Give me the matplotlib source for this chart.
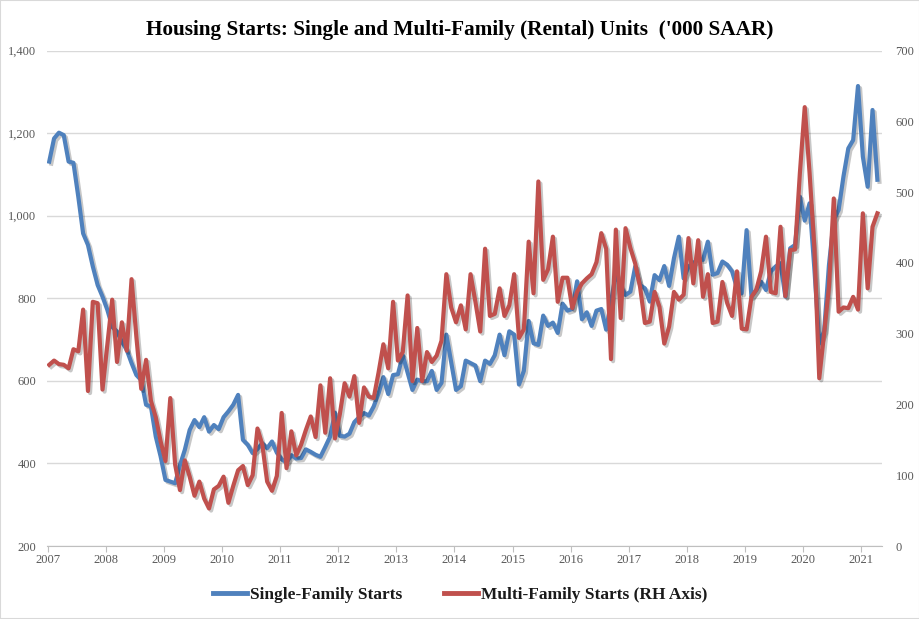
import numpy as np
import matplotlib
matplotlib.use("Agg")
import matplotlib.pyplot as plt
import matplotlib.patheffects as pe
from matplotlib.lines import Line2D
from matplotlib.patches import Rectangle

# monthly, Jan 2007 - Apr 2021, thousands SAAR
years = list(range(2007, 2022))

single_family = [
    1131, 1187, 1201, 1195, 1131, 1128, 1046, 957, 929, 877, 832, 804,   # 2007
    772, 731, 719, 695, 675, 643, 614, 602, 542, 538, 465, 417,          # 2008
    360, 356, 352, 396, 433, 481, 505, 488, 512, 477, 493, 483,          # 2009
    512, 526, 542, 566, 457, 445, 425, 435, 449, 437, 453, 426,          # 2010
    410, 403, 420, 412, 413, 434, 428, 421, 416, 440, 465, 523,          # 2011
    467, 465, 472, 500, 512, 522, 516, 538, 570, 609, 568, 614,          # 2012
    616, 662, 620, 578, 603, 599, 599, 624, 578, 595, 712, 645,          # 2013
    578, 587, 649, 643, 637, 599, 649, 641, 662, 712, 662, 720,          # 2014
    712, 591, 624, 745, 691, 687, 758, 733, 741, 716, 787, 770,          # 2015
    774, 841, 749, 766, 733, 770, 774, 724, 790, 860, 830, 808,          # 2016
    816, 877, 832, 824, 792, 856, 844, 878, 830, 897, 949, 848,          # 2017
    877, 885, 895, 893, 937, 857, 861, 889, 881, 865, 825, 812,          # 2018
    965, 804, 820, 840, 820, 865, 877, 885, 804, 921, 929, 1046,         # 2019
    988, 1030, 870, 690, 720, 880, 990, 1014, 1095, 1163, 1183, 1314,    # 2020
    1143, 1070, 1256, 1087,                                              # 2021
]

multi_family = [
    256, 262, 257, 256, 251, 278, 275, 334, 219, 345, 343, 221,          # 2007
    285, 348, 260, 316, 276, 377, 295, 222, 263, 205, 182, 148,          # 2008
    120, 209, 115, 79, 121, 98, 71, 91, 67, 53, 80, 85,                  # 2009
    98, 61, 85, 107, 113, 86, 100, 166, 143, 91, 78, 99,                 # 2010
    188, 110, 162, 128, 143, 164, 183, 154, 227, 160, 237, 152,          # 2011
    186, 230, 211, 240, 174, 224, 211, 209, 245, 285, 251, 345,          # 2012
    262, 274, 354, 233, 308, 233, 274, 260, 269, 290, 384, 337,          # 2013
    316, 340, 306, 384, 345, 303, 420, 325, 328, 364, 325, 340,          # 2014
    384, 294, 306, 430, 357, 515, 376, 391, 437, 345, 379, 379,          # 2015
    336, 359, 371, 378, 384, 401, 442, 420, 264, 447, 322, 449,          # 2016
    421, 399, 366, 315, 317, 359, 338, 286, 310, 359, 348, 355,          # 2017
    435, 371, 432, 352, 384, 315, 317, 373, 343, 325, 388, 307,          # 2018
    306, 352, 362, 388, 437, 359, 357, 451, 353, 418, 419, 527,          # 2019
    620, 527, 420, 237, 300, 366, 491, 331, 337, 336, 352, 334,          # 2020
    470, 364, 451, 470,                                                  # 2021
]

title = "Housing Starts: Single and Multi-Family (Rental) Units  ('000 SAAR)"
labels = ["Single-Family Starts", "Multi-Family Starts (RH Axis)"]

blue = "#4F81BD"
red = "#C0504D"
tick_col = "#595959"

plt.rcParams["font.family"] = ["Liberation Serif", "DejaVu Serif"]

months = np.arange(len(single_family))

fig = plt.figure(figsize=(9.2, 6.19), dpi=100)
ax = fig.add_axes([0.0514, 0.1179, 0.9070, 0.8005])
ax2 = ax.twinx()

# soft drop shadow like the Excel original
shadow = [pe.SimpleLineShadow(offset=(1.5, -1.5), shadow_color="k", alpha=0.22), pe.Normal()]

ax.plot(months, single_family, color=blue, lw=3.0, solid_joinstyle="round", path_effects=shadow)
ax2.plot(months, multi_family, color=red, lw=3.0, solid_joinstyle="round", path_effects=shadow)

ax.set_xlim(-0.4, 171.9)
ax.set_ylim(200, 1400)
ax2.set_ylim(0, 700)

ax.set_xticks(np.arange(len(years)) * 12 - 0.33)
ax.set_xticklabels([str(y) for y in years])
ax.set_yticks(np.arange(200, 1401, 200))
ax.set_yticklabels([f"{v:,}" for v in range(200, 1401, 200)])
ax2.set_yticks(np.arange(0, 701, 100))

ax.tick_params(axis="x", length=4, color="#BFBFBF", labelsize=9, labelcolor=tick_col, pad=2)
ax.tick_params(axis="y", length=0, labelsize=9, labelcolor=tick_col, pad=8)
ax2.tick_params(axis="y", length=0, labelsize=9, labelcolor=tick_col, pad=10)

for s in ["top", "left", "right"]:
    ax.spines[s].set_visible(False)
for s in ax2.spines.values():
    s.set_visible(False)
ax.spines["bottom"].set_color("#BFBFBF")

ax.yaxis.grid(True, color="#D9D9D9", lw=1)
ax.set_axisbelow(True)

fig.text(0.5, 1 - 30 / 619, title, ha="center", va="center", fontsize=15.3, fontweight="bold")

handles = [Line2D([], [], color=blue, lw=3.5), Line2D([], [], color=red, lw=3.5)]
leg = fig.legend(handles, labels, loc="center", bbox_to_anchor=(0.5, 1 - 595 / 619), ncol=2,
                 frameon=False, handlelength=2.0, handletextpad=0.15, columnspacing=2.4,
                 prop={"weight": "bold", "size": 12.5})
for t in leg.get_texts():
    t.set_color("#1A1A1A")

fig.patches.append(Rectangle((0, 0), 1, 1, transform=fig.transFigure, fill=False,
                             edgecolor="#D9D9D9", lw=1.5))

fig.savefig("out.png", dpi=100)
